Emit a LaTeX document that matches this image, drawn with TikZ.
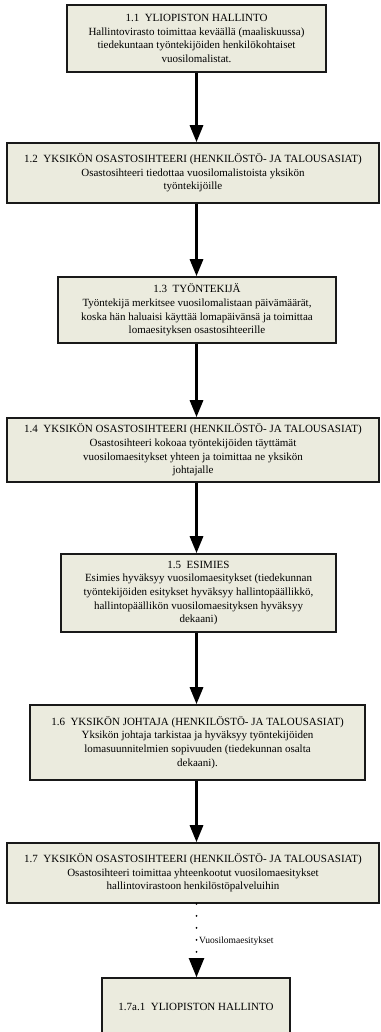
\documentclass[tikz,border=0pt]{standalone}
\usepackage{fontspec}
\setmainfont{Liberation Serif}
\usepackage{tikz}
\usetikzlibrary{arrows.meta,positioning,calc}
\definecolor{stepfill}{RGB}{235,235,222}
\tikzset{
  stepbox/.style ={rectangle, draw=black!90, line width=1.6pt, fill=stepfill,
                   align=center, inner sep=2pt,
                   font=\fontsize{11}{13.7}\selectfont},
  flow/.style    ={-{Triangle[length=17pt,width=13pt]}, line width=3pt, draw=black},
  dotflow/.style ={-{Triangle[length=19pt,width=15pt]}, line width=2pt, draw=black,
                   line cap=round, dash pattern=on 0pt off 12pt},
  tag/.style     ={font=\fontsize{9.5}{11}\selectfont, inner sep=1pt}
}

\begin{document}
\begin{tikzpicture}[x=1pt,y=-1pt]
  \useasboundingbox (0,0) rectangle (380,1032);

  % ---------------- Steps ----------------
  \node[stepbox, minimum width=259pt, minimum height=67pt] (s11) at (196.5,38.5)
    {1.1\ \ YLIOPISTON HALLINTO\\Hallintovirasto toimittaa keväällä (maaliskuussa)\\
     tiedekuntaan työntekijöiden henkilökohtaiset\\vuosilomalistat.};
  \node[stepbox, minimum width=372pt, minimum height=60pt] (s12) at (193,173)
    {1.2\ \ YKSIKÖN OSASTOSIHTEERI (HENKILÖSTÖ- JA TALOUSASIAT)\\
     Osastosihteeri tiedottaa vuosilomalistoista yksikön\\työntekijöille};
  \node[stepbox, minimum width=278pt, minimum height=66pt] (s13) at (197,310)
    {1.3\ \ TYÖNTEKIJÄ\\Työntekijä merkitsee vuosilomalistaan päivämäärät,\\
     koska hän haluaisi käyttää lomapäivänsä ja toimittaa\\lomaesityksen osastosihteerille};
  \node[stepbox, minimum width=372pt, minimum height=64pt] (s14) at (193,450)
    {1.4\ \ YKSIKÖN OSASTOSIHTEERI (HENKILÖSTÖ- JA TALOUSASIAT)\\
     Osastosihteeri kokoaa työntekijöiden täyttämät\\
     vuosilomaesitykset yhteen ja toimittaa ne yksikön\\johtajalle};
  \node[stepbox, minimum width=275pt, minimum height=78pt] (s15) at (198.5,593)
    {1.5\ \ ESIMIES\\Esimies hyväksyy vuosilomaesitykset (tiedekunnan\\
     työntekijöiden esitykset hyväksyy hallintopäällikkö,\\
     hallintopäällikön vuosilomaesityksen hyväksyy\\dekaani)};
  \node[stepbox, minimum width=335pt, minimum height=75pt] (s16) at (197.5,742.5)
    {1.6\ \ YKSIKÖN JOHTAJA (HENKILÖSTÖ- JA TALOUSASIAT)\\
     Yksikön johtaja tarkistaa ja hyväksyy työntekijöiden\\
     lomasuunnitelmien sopivuuden (tiedekunnan osalta\\dekaani).};
  \node[stepbox, minimum width=372pt, minimum height=60pt] (s17) at (193,873)
    {1.7\ \ YKSIKÖN OSASTOSIHTEERI (HENKILÖSTÖ- JA TALOUSASIAT)\\
     Osastosihteeri toimittaa yhteenkootut vuosilomaesitykset\\
     hallintovirastoon henkilöstöpalveluihin};
  \node[stepbox, minimum width=188pt, minimum height=58pt] (s17a) at (196,1007)
    {1.7a.1\ \ YLIOPISTON HALLINTO};

  % ---------------- Edges ----------------
  \draw[flow] (s11.south) -- (s11.south |- s12.north);
  \draw[flow] (s11.south |- s12.south) -- (s11.south |- s13.north);
  \draw[flow] (s11.south |- s13.south) -- (s11.south |- s14.north);
  \draw[flow] (s11.south |- s14.south) -- (s11.south |- s15.north);
  \draw[flow] (s11.south |- s15.south) -- (s11.south |- s16.north);
  \draw[flow] (s11.south |- s16.south) -- (s11.south |- s17.north);
  % hand-over to the central administration
  \draw[dotflow] (s11.south |- s17.south) -- (s11.south |- s17a.north);
  \node[tag, anchor=west] (lbl) at (198,941) {Vuosilomaesitykset};
\end{tikzpicture}
\end{document}
